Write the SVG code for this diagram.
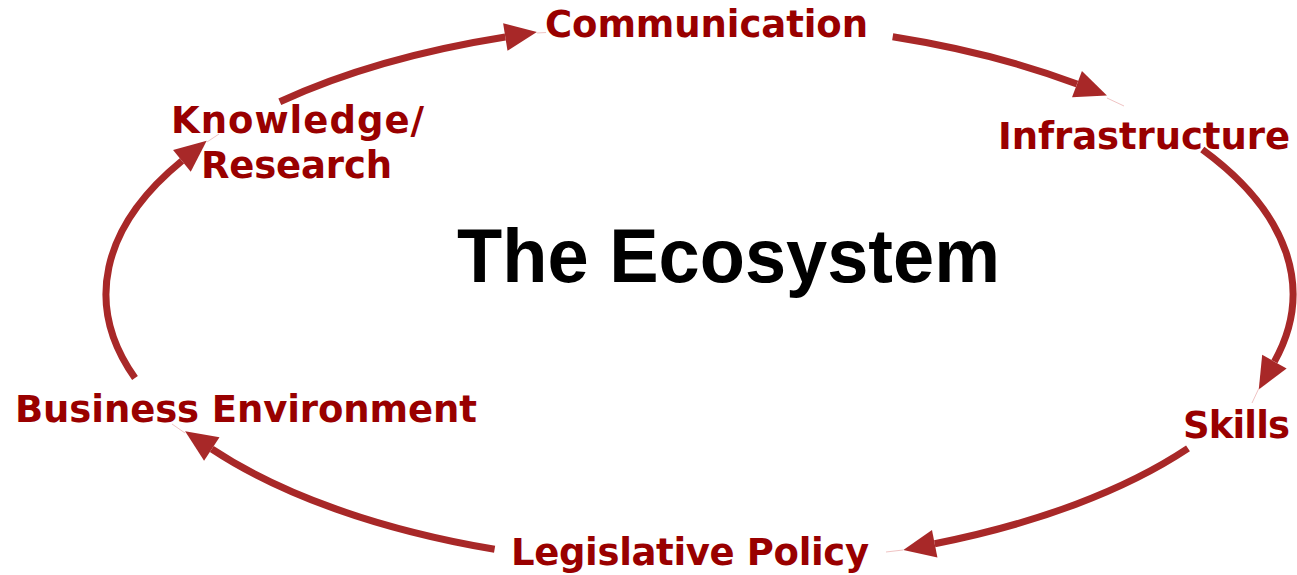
<svg xmlns="http://www.w3.org/2000/svg" width="1297" height="575" viewBox="0 0 1297 575">
  <style>
    .label { font-family: "DejaVu Sans", Verdana, sans-serif; font-weight: bold; font-size: 37px; fill: #990000; }
    .title { font-family: "Liberation Sans", Arial, sans-serif; font-weight: bold; font-size: 76px; fill: #000000; }
    .flow { fill: none; stroke: #a82828; stroke-width: 7; stroke-linecap: butt; marker-end: url(#head); }
    .tail { fill: none; stroke: #f0c4c4; stroke-width: 1; }
  </style>
  <defs>
    <marker id="head" markerUnits="userSpaceOnUse" markerWidth="34" markerHeight="30" refX="0" refY="14" orient="auto" overflow="visible">
      <path d="M0,0 L32,14 L0,28 Z" fill="#a82828"/>
    </marker>
  </defs>
  <rect width="1297" height="575" fill="#ffffff"/>

  <!-- cycle arrows along one ellipse (cx 699.5, cy 294, rx 593.5, ry 272) -->
  <g id="connectors">
    <path class="flow" d="M279.8,101.7 A593.5,272 0 0 1 505.3,37.0"/>
    <path class="flow" d="M892.7,36.8 A593.5,272 0 0 1 1077.0,84.1"/>
    <path class="flow" d="M1202.3,149.5 A593.5,272 0 0 1 1274.4,361.6"/>
    <path class="flow" d="M1188.0,448.4 A593.5,272 0 0 1 934.7,543.7"/>
    <path class="flow" d="M494.6,549.3 A593.5,272 0 0 1 211.8,449.0"/>
    <path class="flow" d="M135.0,378.0 A593.5,272 0 0 1 181.9,160.9"/>
    <path class="tail" d="M537,33 L546,32.5"/>
    <path class="tail" d="M1107,98 L1124,106"/>
    <path class="tail" d="M1259,388 L1252,403"/>
    <path class="tail" d="M903,550 L886,552"/>
    <path class="tail" d="M185,433 L172,424"/>
    <path class="tail" d="M207,142 L219,134"/>
  </g>

  <g id="title">
    <text class="title" x="457" y="282" textLength="543" lengthAdjust="spacingAndGlyphs">The Ecosystem</text>
  </g>
  <g id="communication">
    <text class="label" x="545" y="37" textLength="323" lengthAdjust="spacing">Communication</text>
  </g>
  <g id="infrastructure">
    <text class="label" x="998" y="149" textLength="292" lengthAdjust="spacing">Infrastructure</text>
  </g>
  <g id="skills">
    <text class="label" x="1183" y="438" textLength="107" lengthAdjust="spacing">Skills</text>
  </g>
  <g id="legislative-policy">
    <text class="label" x="511" y="565" textLength="358" lengthAdjust="spacing">Legislative Policy</text>
  </g>
  <g id="business-environment">
    <text class="label" x="15" y="422" textLength="462" lengthAdjust="spacing">Business Environment</text>
  </g>
  <g id="knowledge-research">
    <text class="label" x="171" y="133" textLength="253" lengthAdjust="spacing">Knowledge/</text>
    <text class="label" x="201" y="178" textLength="191" lengthAdjust="spacing">Research</text>
  </g>
</svg>
